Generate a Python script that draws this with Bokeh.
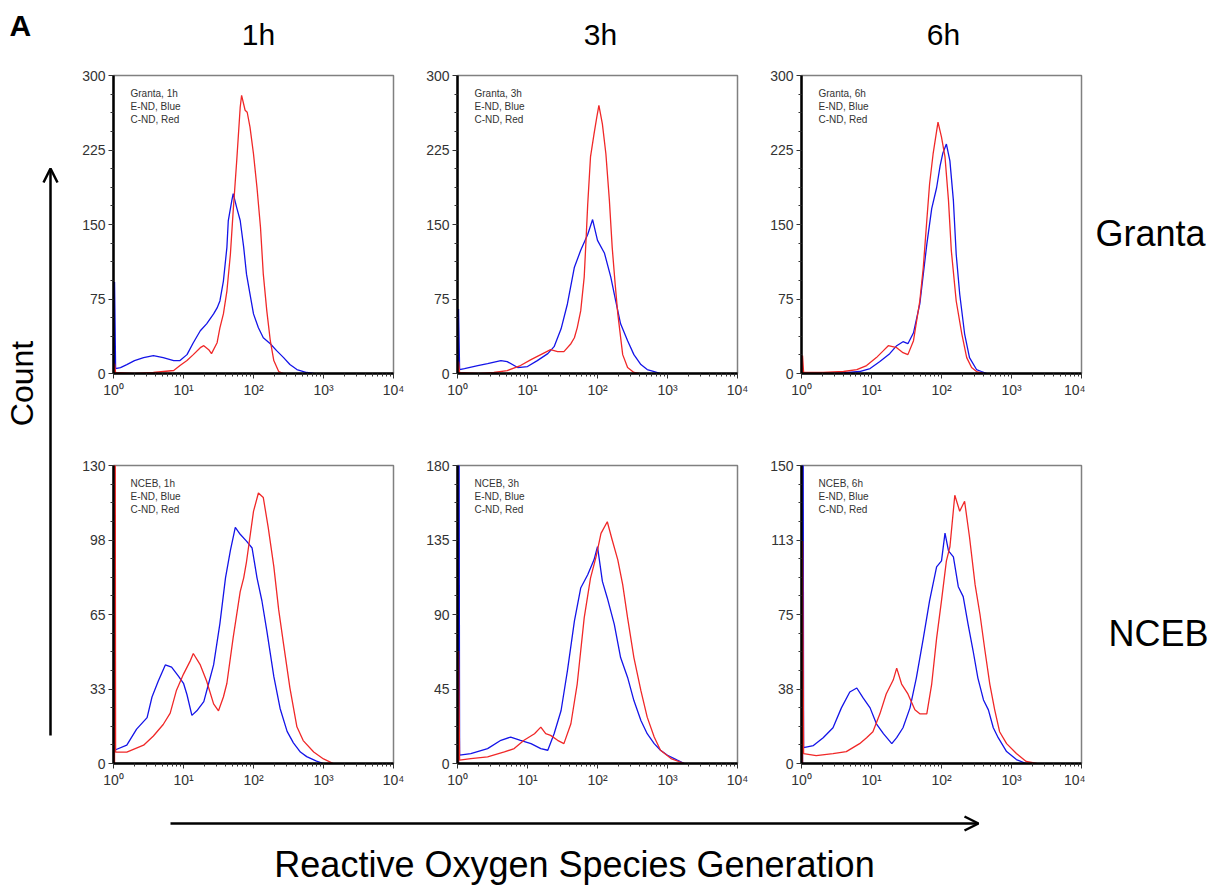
import math
from bokeh.plotting import figure
from bokeh.models import Range1d, FixedTicker, Arrow, OpenHead
from bokeh.layouts import row, column
from bokeh.core.properties import value
from bokeh.embed import file_html
from bokeh.resources import INLINE

# ---------------- data (x = log10 fluorescence, n = count) ----------------
col_titles = ["1h", "3h", "6h"]
row_titles = ["Granta", "NCEB"]
x_tick_labels = {1: "10\u2070", 10: "10\u00b9", 100: "10\u00b2", 1000: "10\u00b3", 10000: "10\u2074"}

g1_ymax = 300
g1_yticks = [0, 75, 150, 225, 300]
g1_ylabels = ["0", "75", "150", "225", "300"]
g1_blue_lx = [0.015, 0.015, 0.03, 0.1, 0.19, 0.3, 0.43, 0.57, 0.71, 0.86, 0.95, 1.05, 1.14, 1.24, 1.33, 1.43, 1.48, 1.52, 1.57, 1.62,
              1.64, 1.69, 1.71, 1.76, 1.81, 1.86, 1.90, 1.95, 2.0, 2.07, 2.14, 2.24, 2.33, 2.43, 2.52, 2.62, 2.76, 2.86]
g1_blue_n = [0, 92, 5, 6, 9, 13, 16, 18, 16, 13, 13, 19, 31, 43, 50, 60, 66, 73, 93, 127,
             154, 174, 181, 167, 154, 127, 100, 80, 60, 46, 36, 30, 23, 16, 9, 4, 1, 0]
g1_red_lx = [0.015, 0.015, 0.03, 0.3, 0.57, 0.86, 0.95, 1.05, 1.14, 1.24, 1.29, 1.36, 1.40, 1.48, 1.52, 1.57, 1.62, 1.67, 1.71, 1.76,
             1.81, 1.83, 1.88, 1.91, 1.95, 2.0, 2.05, 2.10, 2.14, 2.19, 2.24, 2.29, 2.36, 2.43]
g1_red_n = [0, 10, 1, 0, 1, 3, 8, 13, 19, 26, 28, 24, 20, 31, 46, 60, 83, 120, 164, 214,
            268, 280, 265, 263, 248, 221, 187, 147, 100, 63, 33, 13, 2, 0]

g2_ymax = 300
g2_yticks = [0, 75, 150, 225, 300]
g2_ylabels = ["0", "75", "150", "225", "300"]
g2_blue_lx = [0.015, 0.015, 0.03, 0.1, 0.29, 0.43, 0.62, 0.71, 0.86, 1.0, 1.14, 1.29, 1.38, 1.48, 1.57, 1.67, 1.76, 1.86, 1.93, 2.0,
              2.1, 2.19, 2.26, 2.33, 2.43, 2.52, 2.62, 2.71, 2.81, 2.9]
g2_blue_n = [0, 65, 4, 5, 8, 10, 13, 12, 6, 7, 13, 20, 27, 45, 70, 107, 124, 140, 155, 134,
             121, 97, 73, 50, 33, 19, 9, 4, 2, 0]
g2_red_lx = [0.015, 0.015, 0.03, 0.3, 0.52, 0.71, 0.9, 1.05, 1.19, 1.33, 1.43, 1.52, 1.62, 1.67, 1.71, 1.76, 1.81, 1.84, 1.86, 1.90,
             1.95, 1.99, 2.02, 2.07, 2.12, 2.17, 2.21, 2.25, 2.29, 2.36, 2.43, 2.52, 2.6]
g2_red_n = [0, 12, 1, 0, 1, 3, 8, 14, 19, 24, 22, 22, 30, 36, 46, 63, 97, 140, 170, 218,
            241, 258, 270, 251, 221, 174, 127, 92, 60, 19, 6, 1, 0]

g3_ymax = 300
g3_yticks = [0, 75, 150, 225, 300]
g3_ylabels = ["0", "75", "150", "225", "300"]
g3_blue_lx = [0.015, 0.015, 0.03, 0.5, 0.83, 0.98, 1.12, 1.26, 1.36, 1.45, 1.52, 1.6, 1.69, 1.74, 1.79, 1.86, 1.93, 1.98, 2.02, 2.07,
              2.12, 2.17, 2.21, 2.26, 2.33, 2.40, 2.5, 2.57, 2.65]
g3_blue_n = [0, 4, 0, 0, 2, 5, 12, 20, 28, 32, 30, 41, 70, 100, 130, 166, 187, 209, 222, 231,
             214, 174, 120, 80, 40, 16, 4, 2, 0]
g3_red_lx = [0.015, 0.015, 0.03, 0.31, 0.6, 0.79, 0.93, 1.07, 1.17, 1.24, 1.36, 1.45, 1.52, 1.6, 1.69, 1.74, 1.79, 1.83, 1.88, 1.95,
             2.0, 2.05, 2.10, 2.14, 2.21, 2.29, 2.36, 2.43, 2.5, 2.6]
g3_red_n = [0, 18, 1, 1, 2, 4, 8, 16, 23, 28, 26, 21, 19, 33, 73, 107, 154, 191, 221, 253,
            238, 218, 174, 124, 73, 40, 16, 6, 2, 0]

n1_ymax = 130
n1_yticks = [0, 32.5, 65, 97.5, 130]
n1_ylabels = ["0", "33", "65", "98", "130"]
n1_blue_lx = [0.03, 0.19, 0.33, 0.48, 0.55, 0.64, 0.74, 0.83, 0.93, 1.0, 1.05, 1.12, 1.19, 1.29, 1.36, 1.43, 1.52, 1.60, 1.67, 1.74,
              1.81, 1.90, 1.98, 2.05, 2.12, 2.19, 2.29, 2.38, 2.48, 2.57, 2.67, 2.76, 2.9, 3.0]
n1_blue_n = [6, 8, 15, 20, 29, 36, 43, 42, 38, 35, 30, 21, 23, 27, 35, 43, 61, 81, 93, 103,
             100, 97, 94, 81, 71, 58, 38, 24, 14, 9, 5, 3, 1, 0]
n1_red_lx = [0.015, 0.015, 0.03, 0.19, 0.43, 0.57, 0.71, 0.81, 0.9, 1.0, 1.1, 1.14, 1.24, 1.33, 1.43, 1.5, 1.57, 1.62, 1.71, 1.81,
             1.86, 1.90, 2.0, 2.07, 2.14, 2.21, 2.29, 2.36, 2.43, 2.52, 2.62, 2.71, 2.86, 3.0, 3.14]
n1_red_n = [0, 400, 5, 5, 8, 12, 17, 22, 32, 39, 45, 48, 43, 36, 26, 23, 29, 35, 55, 75,
            81, 88, 110, 118, 116, 103, 86, 67, 52, 33, 16, 10, 5, 2, 0]

n2_ymax = 180
n2_yticks = [0, 45, 90, 135, 180]
n2_ylabels = ["0", "45", "90", "135", "180"]
n2_blue_lx = [0.015, 0.015, 0.03, 0.19, 0.43, 0.62, 0.76, 0.9, 1.05, 1.19, 1.29, 1.38, 1.48, 1.57, 1.67, 1.76, 1.86, 1.95, 2.0, 2.07,
              2.14, 2.24, 2.33, 2.43, 2.52, 2.62, 2.71, 2.81, 2.9, 3.0, 3.14, 3.24]
n2_blue_n = [0, 400, 5, 6, 9, 14, 16, 14, 12, 9, 8, 18, 32, 56, 86, 106, 114, 123, 131, 110,
             100, 84, 64, 52, 38, 26, 18, 12, 8, 5, 2, 0]
n2_red_lx = [0.015, 0.015, 0.03, 0.19, 0.43, 0.67, 0.81, 0.95, 1.10, 1.19, 1.26, 1.33, 1.43, 1.52, 1.62, 1.71, 1.81, 1.90, 1.98, 2.05,
             2.14, 2.21, 2.29, 2.36, 2.43, 2.52, 2.62, 2.71, 2.81, 2.90, 3.05, 3.24]
n2_red_n = [0, 68, 2, 3, 4, 7, 9, 14, 18, 22, 18, 17, 14, 12, 24, 48, 88, 112, 125, 139,
            146, 135, 123, 108, 88, 64, 44, 28, 16, 8, 3, 0]

n3_ymax = 150
n3_yticks = [0, 37.5, 75, 112.5, 150]
n3_ylabels = ["0", "38", "75", "113", "150"]
n3_blue_lx = [0.015, 0.015, 0.03, 0.17, 0.31, 0.45, 0.57, 0.69, 0.79, 0.88, 0.98, 1.07, 1.17, 1.29, 1.36, 1.45, 1.55, 1.64, 1.74, 1.83,
              1.93, 2.0, 2.05, 2.1, 2.17, 2.24, 2.31, 2.38, 2.45, 2.52, 2.6, 2.67, 2.74, 2.81, 2.93, 3.07, 3.21]
n3_blue_n = [0, 400, 8, 9, 13, 18, 28, 36, 38, 33, 28, 20, 15, 10, 13, 18, 28, 43, 63, 82,
             99, 102, 116, 107, 104, 89, 84, 70, 57, 43, 32, 27, 18, 13, 6, 2, 0]
n3_red_lx = [0.015, 0.015, 0.03, 0.21, 0.45, 0.64, 0.83, 0.93, 1.02, 1.12, 1.21, 1.31, 1.36, 1.43, 1.52, 1.62, 1.69, 1.79, 1.86, 1.93,
             2.0, 2.07, 2.12, 2.19, 2.26, 2.33, 2.40, 2.48, 2.55, 2.62, 2.69, 2.76, 2.83, 2.93, 3.07, 3.21, 3.36]
n3_red_n = [0, 112, 5, 4, 5, 6, 10, 13, 16, 25, 35, 42, 48, 40, 35, 27, 25, 25, 40, 63,
            82, 102, 109, 135, 127, 132, 114, 90, 75, 57, 40, 27, 16, 10, 5, 1, 0]

# ---------------- styling ----------------
FONT = "Liberation Sans"
BLUE = "#1414e8"
RED = "#f02828"
FRAME_W, FRAME_H = 280, 298
BORDER_L = 40


def blank(w, h):
    p = figure(width=w, height=h, x_range=Range1d(0, w), y_range=Range1d(0, h), title=None,
               output_backend="svg", toolbar_location=None, min_border=0,
               x_axis_location=None, y_axis_location=None)
    p.grid.visible = False
    p.outline_line_color = None
    return p


def panel(cell, tp, ymax, yticks, ylabels, blx, bn, rlx, rn, right, top, bottom):
    p = figure(width=BORDER_L + FRAME_W + right, height=top + FRAME_H + bottom, title=None,
               x_axis_type="log", x_range=Range1d(1, 10000), y_range=Range1d(0, ymax),
               output_backend="svg", toolbar_location=None,
               min_border_left=BORDER_L, min_border_right=right,
               min_border_top=top, min_border_bottom=bottom)
    p.grid.visible = False
    p.outline_line_color = "#808080"
    p.outline_line_width = 1.5

    minor_x = [m * 10 ** k for k in range(4) for m in range(2, 10)]
    p.xaxis.ticker = FixedTicker(ticks=list(x_tick_labels.keys()), minor_ticks=minor_x)
    p.xaxis.major_label_overrides = dict(x_tick_labels)
    step = ymax / 16.0
    minor_y = [i * step for i in range(17) if i % 4]
    p.yaxis.ticker = FixedTicker(ticks=yticks, minor_ticks=minor_y)
    p.yaxis.major_label_overrides = {t: l for t, l in zip(yticks, ylabels)}

    for ax in (p.xaxis, p.yaxis):
        ax.axis_line_color = "black"
        ax.axis_line_width = 2.5
        ax.major_tick_line_color = "#333333"
        ax.minor_tick_line_color = "#333333"
        ax.major_tick_in = 0
        ax.major_tick_out = 5
        ax.minor_tick_in = 0
        ax.minor_tick_out = 3
        ax.major_label_text_font = FONT
        ax.major_label_text_font_size = "14px"
        ax.major_label_text_color = "#333333"
    p.xaxis.major_label_standoff = 3
    p.yaxis.major_label_standoff = 3

    p.line([10 ** v for v in blx], bn, line_color=BLUE, line_width=1.3)
    p.line([10 ** v for v in rlx], rn, line_color=RED, line_width=1.3)

    lines = [f"{cell}, {tp}", "E-ND, Blue", "C-ND, Red"]
    ys = [ymax * (1 - d / FRAME_H) for d in (18, 31, 44)]
    p.text(x=[1.75] * 3, y=ys, text=lines, text_font=value(FONT),
           text_font_size=value("10px"), text_color="#333333",
           text_align="left", text_baseline="middle")
    return p


TOTAL_H = 887
TOP_H = 65
R1_TOP, R2_TOP, BOT = 10, 60, 32
R1_H = R1_TOP + FRAME_H + BOT
R2_H = R2_TOP + FRAME_H + BOT
LEFT_W = 73
INNER_W = 1215 - LEFT_W
BOTTOM_H = TOTAL_H - TOP_H - R1_H - R2_H

# left strip: panel letter, "Count", vertical arrow
left = blank(LEFT_W, TOTAL_H)
left.text(x=[9], y=[TOTAL_H - 25], text=["A"], text_font=value(FONT), text_font_size=value("30px"),
          text_font_style="bold", text_color="black", text_align="left", text_baseline="middle")
left.text(x=[21], y=[TOTAL_H - 383], text=["Count"], angle=math.pi / 2, text_font=value(FONT),
          text_font_size=value("32px"), text_color="black", text_align="center", text_baseline="middle")
left.add_layout(Arrow(end=OpenHead(size=14, line_width=2.5, line_color="black"),
                      x_start=50, y_start=TOTAL_H - 735, x_end=50, y_end=TOTAL_H - 168,
                      line_width=2.5, line_color="black"))

# top strip: column titles
top = blank(INNER_W, TOP_H)
top.text(x=[185, 527, 870], y=[TOP_H - 34] * 3, text=col_titles, text_font=value(FONT),
         text_font_size=value("30px"), text_color="black", text_align="center", text_baseline="middle")

p1 = panel(row_titles[0], col_titles[0], g1_ymax, g1_yticks, g1_ylabels, g1_blue_lx, g1_blue_n, g1_red_lx, g1_red_n, 24, R1_TOP, BOT)
p2 = panel(row_titles[0], col_titles[1], g2_ymax, g2_yticks, g2_ylabels, g2_blue_lx, g2_blue_n, g2_red_lx, g2_red_n, 24, R1_TOP, BOT)
p3 = panel(row_titles[0], col_titles[2], g3_ymax, g3_yticks, g3_ylabels, g3_blue_lx, g3_blue_n, g3_red_lx, g3_red_n, 4, R1_TOP, BOT)
p4 = panel(row_titles[1], col_titles[0], n1_ymax, n1_yticks, n1_ylabels, n1_blue_lx, n1_blue_n, n1_red_lx, n1_red_n, 24, R2_TOP, BOT)
p5 = panel(row_titles[1], col_titles[1], n2_ymax, n2_yticks, n2_ylabels, n2_blue_lx, n2_blue_n, n2_red_lx, n2_red_n, 24, R2_TOP, BOT)
p6 = panel(row_titles[1], col_titles[2], n3_ymax, n3_yticks, n3_ylabels, n3_blue_lx, n3_blue_n, n3_red_lx, n3_red_n, 4, R2_TOP, BOT)

LAB_W = INNER_W - (p1.width + p2.width + p3.width)
lab1 = blank(LAB_W, R1_H)
lab1.text(x=[10], y=[R1_H - 180], text=[row_titles[0]], text_font=value(FONT), text_font_size=value("36px"),
          text_color="black", text_align="left", text_baseline="middle")
lab2 = blank(LAB_W, R2_H)
lab2.text(x=[23], y=[R2_H - 220], text=[row_titles[1]], text_font=value(FONT), text_font_size=value("36px"),
          text_color="black", text_align="left", text_baseline="middle")

# bottom strip: horizontal arrow + x label
bottom = blank(INNER_W, BOTTOM_H)
bottom.add_layout(Arrow(end=OpenHead(size=14, line_width=2.5, line_color="black"),
                        x_start=97, y_start=BOTTOM_H - 28, x_end=905, y_end=BOTTOM_H - 28,
                        line_width=2.5, line_color="black"))
bottom.text(x=[501], y=[BOTTOM_H - 69], text=["Reactive Oxygen Species Generation"], text_font=value(FONT),
            text_font_size=value("36px"), text_color="black", text_align="center", text_baseline="middle")

layout = row(left, column(top, row(p1, p2, p3, lab1), row(p4, p5, p6, lab2), bottom))

open("out.html", "w").write(file_html(layout, INLINE, title="ROS generation"))
